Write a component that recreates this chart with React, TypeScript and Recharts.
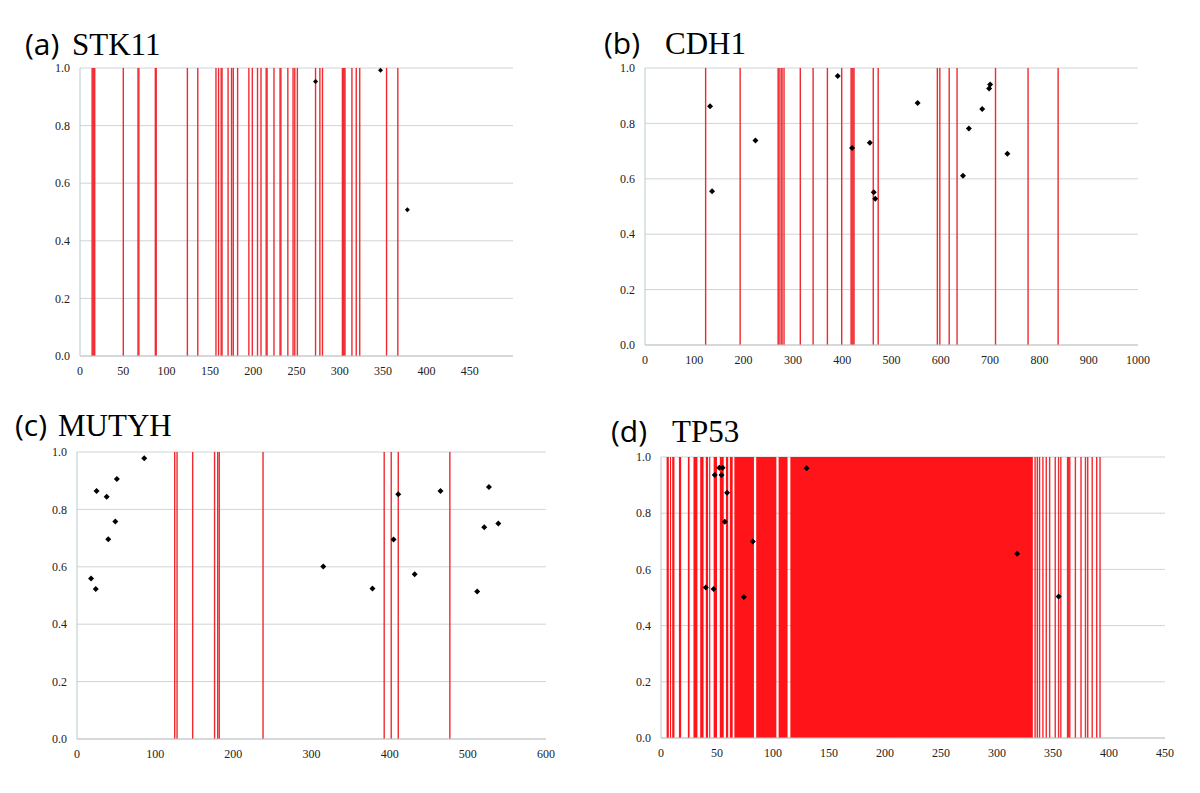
import React from 'react';
import { ScatterChart, Scatter, XAxis, YAxis, CartesianGrid, ReferenceLine, ReferenceArea } from 'recharts';

// ---------- (a) STK11 ----------
const stk11Lines = [14, 15, 16, 17, 50, 67, 68, 87, 88, 124, 136, 157, 160, 163, 164, 171, 175, 177, 182, 195, 199, 205, 209, 215, 216, 224, 231, 232, 240, 246, 248, 251, 272, 277, 280, 303, 304, 305, 306, 314, 319, 323, 354, 367];
const stk11X = [272, 347, 378];
const stk11Y = [0.953, 0.992, 0.508];
const stk11Ticks = [0, 50, 100, 150, 200, 250, 300, 350, 400, 450];

// ---------- (b) CDH1 ----------
const cdh1Lines = [123, 193, 270, 272, 276, 278, 282, 315, 341, 370, 399, 418, 420, 422, 424, 463, 473, 593, 598, 617, 633, 711, 777, 838];
const cdh1X = [132, 136, 224, 391, 420, 456, 464, 467, 553, 645, 657, 684, 698, 700, 735];
const cdh1Y = [0.862, 0.555, 0.738, 0.971, 0.711, 0.730, 0.551, 0.528, 0.874, 0.611, 0.782, 0.852, 0.926, 0.940, 0.690];
const cdh1Ticks = [0, 100, 200, 300, 400, 500, 600, 700, 800, 900, 1000];

// ---------- (c) MUTYH ----------
const mutyhLines = [125, 128, 148, 176, 180, 182, 238, 393, 402, 411, 477];
const mutyhX = [18, 25, 24, 38, 40, 49, 51, 86, 315, 378, 405, 411, 432, 465, 512, 521, 527, 539];
const mutyhY = [0.559, 0.864, 0.523, 0.844, 0.696, 0.758, 0.906, 0.978, 0.601, 0.524, 0.695, 0.853, 0.574, 0.864, 0.514, 0.738, 0.878, 0.751];
const mutyhTicks = [0, 100, 200, 300, 400, 500, 600];

// ---------- (d) TP53 ----------
const tp53BlockStart = [5, 8, 10, 16, 24, 29, 35, 40, 43, 47, 52.5, 58, 61.5, 65.5, 85, 105, 115.5];
const tp53BlockEnd = [7, 9, 12, 18, 25.5, 32.5, 38, 42, 44, 50, 56, 60, 64, 83, 103, 113, 332];
const tp53Lines = [334, 336, 338, 341, 344, 347, 352, 355, 357, 363, 364, 365, 370, 375, 379, 381, 385, 389, 392];
const tp53X = [40, 47, 48, 52, 54, 55, 57, 59, 74, 82, 130, 318, 355];
const tp53Y = [0.536, 0.530, 0.936, 0.962, 0.936, 0.962, 0.770, 0.873, 0.502, 0.699, 0.960, 0.656, 0.504];
const tp53Ticks = [0, 50, 100, 150, 200, 250, 300, 350, 400, 450];

const yTicks = [0, 0.2, 0.4, 0.6, 0.8, 1.0];

const RED = '#f02a30';
const BLOCK = '#ff1419';
const SERIF = '"Liberation Serif", "Times New Roman", serif';
const SANS = '"Open Sans", "Noto Sans", sans-serif';

const Diamond = (r: number) => (props: any) => {
  const { cx, cy } = props;
  if (cx == null || cy == null) return null;
  return <path d={`M${cx},${cy - r}L${cx + r},${cy}L${cx},${cy + r}L${cx - r},${cy}Z`} fill="#000" stroke="none" />;
};

const RedLine = (props: any) => {
  const { x1, y1, x2, y2 } = props;
  if (x1 == null) return null;
  return <line x1={x1} y1={y1} x2={x2} y2={y2} stroke={RED} strokeWidth={1.4} fill="none" />;
};

type PanelProps = {
  plotLeft: number;
  plotTop: number;
  plotW: number;
  plotH: number;
  xMax: number;
  xTicks: number[];
  lines: number[];
  blockStart?: number[];
  blockEnd?: number[];
  xs: number[];
  ys: number[];
  r: number;
};

const Panel = ({ plotLeft, plotTop, plotW, plotH, xMax, xTicks, lines, blockStart = [], blockEnd = [], xs, ys, r }: PanelProps) => {
  const padL = 60;
  const padT = 10;
  const padR = 20;
  const padB = 30;
  const data = xs.map((x, i) => ({ x, y: ys[i] }));
  return (
    <div style={{ position: 'absolute', left: plotLeft - padL, top: plotTop - padT }}>
      <ScatterChart width={plotW + padL + padR} height={plotH + padT + padB} margin={{ top: padT, right: padR, bottom: 0, left: 0 }}>
        <CartesianGrid horizontal vertical={false} stroke="#cfd5d5" strokeWidth={1} />
        <XAxis
          type="number"
          dataKey="x"
          domain={[0, xMax]}
          ticks={xTicks}
          allowDataOverflow
          height={padB}
          tickLine={false}
          tickMargin={4}
          stroke="#c4c8c8"
          tick={{ fill: '#222', fontSize: 12, fontFamily: SERIF }}
        />
        <YAxis
          type="number"
          dataKey="y"
          domain={[0, 1]}
          ticks={yTicks}
          width={padL}
          tickLine={false}
          tickMargin={4}
          stroke="#b8caca"
          tickFormatter={(v: number) => v.toFixed(1)}
          tick={{ fill: '#222', fontSize: 12, fontFamily: SERIF }}
        />
        {blockStart.map((s, i) => (
          <ReferenceArea key={'b' + i} x1={s} x2={blockEnd[i]} y1={0} y2={1} fill={BLOCK} fillOpacity={1} stroke="none" />
        ))}
        {lines.map((v, i) => (
          <ReferenceLine key={'l' + i} x={v} stroke={RED} strokeWidth={1.4} shape={RedLine} />
        ))}
        <Scatter data={data} isAnimationActive={false} shape={Diamond(r)} />
      </ScatterChart>
    </div>
  );
};

const Title = ({ x1, x2, y, tag, gene }: { x1: number; x2: number; y: number; tag: string; gene: string }) => (
  <>
    <text x={x1} y={y} fontFamily={SANS} fontSize={30} fill="#000">{tag}</text>
    <text x={x2} y={y} fontFamily={SERIF} fontSize={31} fill="#000">{gene}</text>
  </>
);

export default function App() {
  return (
    <div style={{ position: 'absolute', left: 0, top: 0, width: 1200, height: 793, background: '#fff', overflow: 'hidden' }}>
      <Panel plotLeft={80} plotTop={68} plotW={433} plotH={288} xMax={500} xTicks={stk11Ticks} lines={stk11Lines} xs={stk11X} ys={stk11Y} r={2.5} />
      <Panel plotLeft={645} plotTop={68} plotW={493} plotH={277} xMax={1000} xTicks={cdh1Ticks} lines={cdh1Lines} xs={cdh1X} ys={cdh1Y} r={3} />
      <Panel plotLeft={77} plotTop={452} plotW={469} plotH={287} xMax={600} xTicks={mutyhTicks} lines={mutyhLines} xs={mutyhX} ys={mutyhY} r={3} />
      <Panel plotLeft={661} plotTop={457} plotW={504} plotH={281} xMax={450} xTicks={tp53Ticks} lines={tp53Lines} blockStart={tp53BlockStart} blockEnd={tp53BlockEnd} xs={tp53X} ys={tp53Y} r={3} />
      <svg width={1200} height={793} style={{ position: 'absolute', left: 0, top: 0, pointerEvents: 'none' }}>
        <Title x1={25} x2={72} y={55} tag="(a)" gene="STK11" />
        <Title x1={604} x2={665} y={54} tag="(b)" gene="CDH1" />
        <Title x1={15} x2={58} y={436} tag="(c)" gene="MUTYH" />
        <Title x1={611} x2={672} y={442} tag="(d)" gene="TP53" />
      </svg>
    </div>
  );
}
